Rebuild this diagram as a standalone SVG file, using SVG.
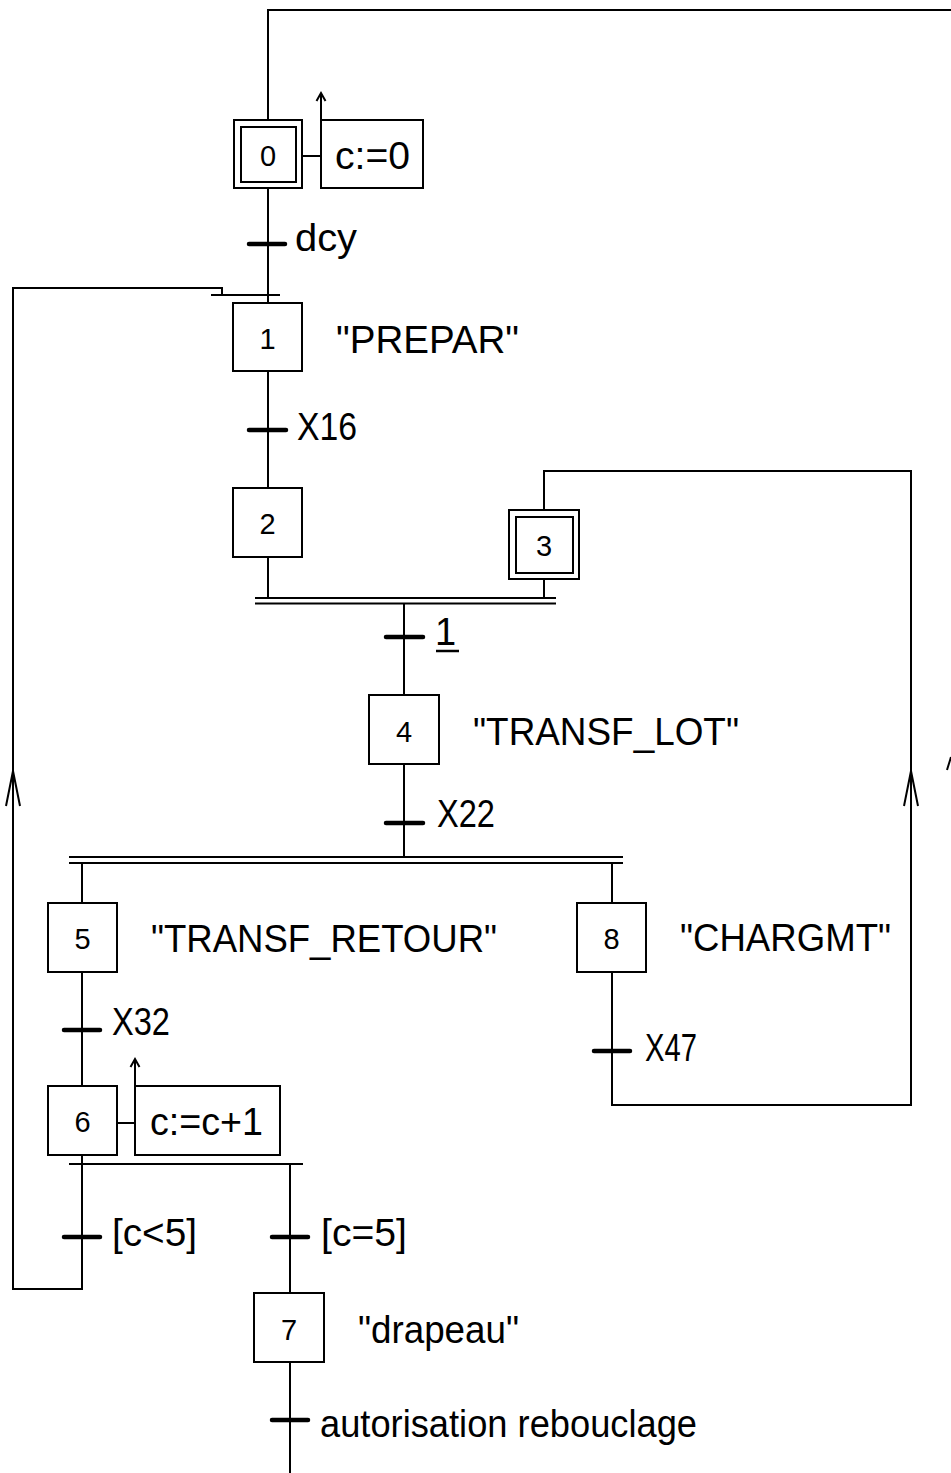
<svg xmlns="http://www.w3.org/2000/svg" width="951" height="1473" viewBox="0 0 951 1473">
<style>
.ln{fill:none;stroke:#000;stroke-width:2}
.bar{stroke:#000;stroke-width:4.5;stroke-linecap:round}
.box{fill:#fff;stroke:#000;stroke-width:2}
.num{font-family:"Liberation Sans",Arial,sans-serif;font-size:29px;text-anchor:middle;fill:#000}
.lbl{font-family:"Liberation Sans",Arial,sans-serif;font-size:38px;fill:#000}
</style>
<rect x="0" y="0" width="951" height="1473" fill="#fff"/>
<g id="connectors">
<path class="ln" d="M268,120 V10 H955"/>
<path class="ln" d="M947,770 L951,757"/>
<path class="ln" d="M268,188 V295"/>
<line class="bar" x1="249" y1="244" x2="285" y2="244"/>
<line class="ln" x1="211" y1="295" x2="280" y2="295"/>
<path class="ln" d="M268,295 V303"/>
<path class="ln" d="M268,371 V488"/>
<line class="bar" x1="249" y1="430" x2="286" y2="430"/>
<path class="ln" d="M268,557 V598"/>
<path class="ln" d="M544,579 V598"/>
<path class="ln" d="M544,510 V471 H911 V1105 H612 V972"/>
<path class="ln" d="M904,806 L911,771 L918,806"/>
<line class="ln" x1="255" y1="598" x2="556" y2="598"/>
<line class="ln" x1="255" y1="603.5" x2="556" y2="603.5"/>
<path class="ln" d="M404,604 V695"/>
<line class="bar" x1="386" y1="637" x2="423" y2="637"/>
<path class="ln" d="M404,764 V857"/>
<line class="bar" x1="386" y1="823" x2="423" y2="823"/>
<line class="ln" x1="69" y1="857" x2="623" y2="857"/>
<line class="ln" x1="69" y1="863" x2="623" y2="863"/>
<path class="ln" d="M82,863 V903"/>
<path class="ln" d="M612,863 V903"/>
<path class="ln" d="M82,972 V1086"/>
<line class="bar" x1="64" y1="1030" x2="100" y2="1030"/>
<line class="bar" x1="594" y1="1051" x2="630" y2="1051"/>
<path class="ln" d="M82,1155 V1289 H13 V288 H222 V295"/>
<path class="ln" d="M6,806 L13,771 L20,806"/>
<line class="ln" x1="69" y1="1164" x2="303" y2="1164"/>
<line class="bar" x1="64" y1="1237" x2="100" y2="1237"/>
<path class="ln" d="M290,1164 V1293"/>
<line class="bar" x1="272" y1="1237" x2="308" y2="1237"/>
<path class="ln" d="M290,1362 V1473"/>
<line class="bar" x1="272" y1="1420" x2="308" y2="1420"/>
<path class="ln" d="M302,156 H321"/>
<path class="ln" d="M321,120 V93"/>
<path class="ln" d="M316.5,101 L321,93 L325.5,101"/>
<path class="ln" d="M117,1123 H135"/>
<path class="ln" d="M135,1086 V1059"/>
<path class="ln" d="M130.5,1067 L135,1059 L139.5,1067"/>
</g>
<g id="step0">
<rect class="box" x="234" y="120" width="68" height="68"/>
<rect class="box" x="241" y="127" width="55" height="55"/>
<text class="num" x="268" y="166">0</text>
</g>
<g id="action0">
<rect class="box" x="321" y="120" width="102" height="68"/>
<text class="lbl" x="335" y="169" textLength="75" lengthAdjust="spacingAndGlyphs">c:=0</text>
</g>
<g id="t0"><text class="lbl" x="295" y="251" textLength="62" lengthAdjust="spacingAndGlyphs">dcy</text></g>
<g id="step1">
<rect class="box" x="233" y="303" width="69" height="68"/>
<text class="num" x="267.5" y="349">1</text>
<text class="lbl" x="336" y="353" textLength="183" lengthAdjust="spacingAndGlyphs">"PREPAR"</text>
</g>
<g id="t1"><text class="lbl" x="297" y="440" textLength="60" lengthAdjust="spacingAndGlyphs">X16</text></g>
<g id="step2">
<rect class="box" x="233" y="488" width="69" height="69"/>
<text class="num" x="267.5" y="534">2</text>
</g>
<g id="step3">
<rect class="box" x="509" y="510" width="70" height="69"/>
<rect class="box" x="516" y="517" width="57" height="56"/>
<text class="num" x="544" y="556">3</text>
</g>
<g id="t2">
<text class="lbl" x="435" y="645">1</text>
<line x1="436" y1="651" x2="459" y2="651" stroke="#000" stroke-width="2.5"/>
</g>
<g id="step4">
<rect class="box" x="369" y="695" width="70" height="69"/>
<text class="num" x="404" y="742">4</text>
<text class="lbl" x="473" y="745" textLength="266" lengthAdjust="spacingAndGlyphs">"TRANSF_LOT"</text>
</g>
<g id="t3"><text class="lbl" x="437" y="827" textLength="58" lengthAdjust="spacingAndGlyphs">X22</text></g>
<g id="step5">
<rect class="box" x="48" y="903" width="69" height="69"/>
<text class="num" x="82.5" y="949">5</text>
<text class="lbl" x="151" y="952" textLength="346" lengthAdjust="spacingAndGlyphs">"TRANSF_RETOUR"</text>
</g>
<g id="step8">
<rect class="box" x="577" y="903" width="69" height="69"/>
<text class="num" x="611.5" y="949">8</text>
<text class="lbl" x="680" y="951" textLength="211" lengthAdjust="spacingAndGlyphs">"CHARGMT"</text>
</g>
<g id="t4"><text class="lbl" x="112" y="1035" textLength="58" lengthAdjust="spacingAndGlyphs">X32</text></g>
<g id="t5"><text class="lbl" x="645" y="1061" textLength="52" lengthAdjust="spacingAndGlyphs">X47</text></g>
<g id="step6">
<rect class="box" x="48" y="1086" width="69" height="69"/>
<text class="num" x="82.5" y="1132">6</text>
</g>
<g id="action6">
<rect class="box" x="135" y="1086" width="145" height="69"/>
<text class="lbl" x="150" y="1135" textLength="113" lengthAdjust="spacingAndGlyphs">c:=c+1</text>
</g>
<g id="t6"><text class="lbl" x="112" y="1246" textLength="85" lengthAdjust="spacingAndGlyphs">[c&lt;5]</text></g>
<g id="t7"><text class="lbl" x="321" y="1246" textLength="86" lengthAdjust="spacingAndGlyphs">[c=5]</text></g>
<g id="step7">
<rect class="box" x="254" y="1293" width="70" height="69"/>
<text class="num" x="289" y="1340">7</text>
<text class="lbl" x="358" y="1343" textLength="161" lengthAdjust="spacingAndGlyphs">"drapeau"</text>
</g>
<g id="t8"><text class="lbl" x="320" y="1437" textLength="377" lengthAdjust="spacingAndGlyphs">autorisation rebouclage</text></g>
</svg>
